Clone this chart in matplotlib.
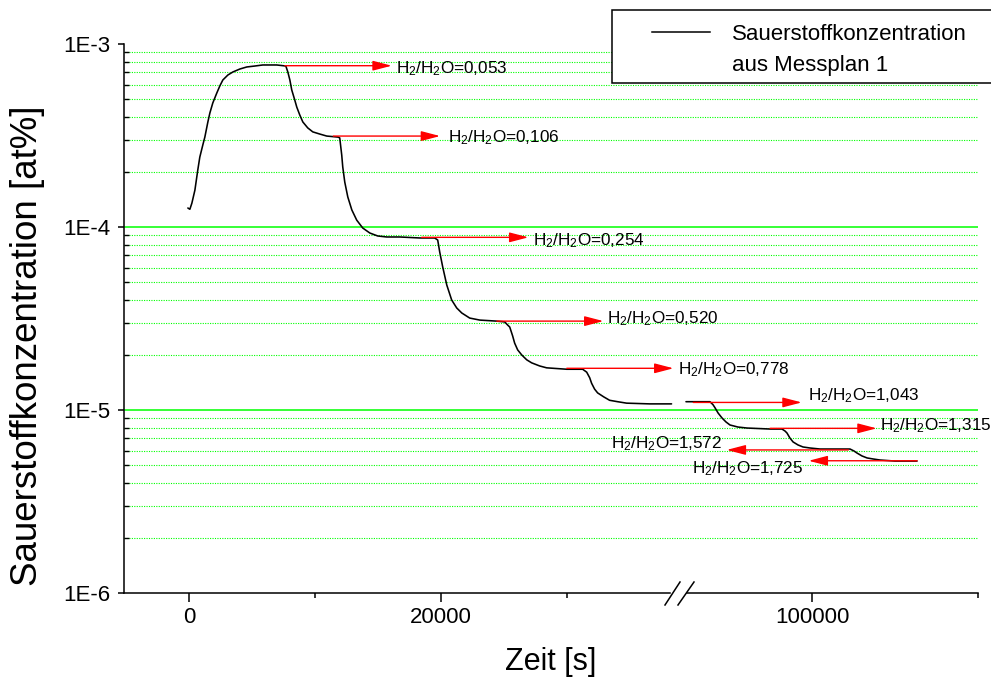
import matplotlib
matplotlib.use("Agg")
import matplotlib.pyplot as plt
from matplotlib.lines import Line2D
from matplotlib.patches import Rectangle

plt.rcParams['font.family'] = ['Liberation Sans', 'DejaVu Sans']
plt.rcParams['mathtext.fontset'] = 'custom'
plt.rcParams['mathtext.rm'] = 'Liberation Sans'
plt.rcParams['mathtext.it'] = 'Liberation Sans:italic'
plt.rcParams['mathtext.bf'] = 'Liberation Sans:bold'
plt.rcParams['mathtext.default'] = 'regular'

# ---- oxygen concentration, first block of the run [s], [at%]
t_a = [-80, 80, 240, 480, 710, 870, 1110, 1270, 1510, 1670, 1900, 2220, 2460, 2700,
       3100, 3490, 4050, 4600, 5240, 5870, 6980, 7700, 7860, 8020, 8170, 8410, 8570,
       8810, 9050, 9440, 9840, 10400, 10950, 11830, 11980, 12140, 12220, 12380, 12620,
       12940, 13330, 13810, 14370, 15000, 15710, 16750, 18330, 19520, 19760, 19920,
       20160, 20480, 20870, 21270, 21670, 22300, 23100, 24440, 25080, 25320, 25480,
       25710, 25870, 26110, 26430, 26830, 27220, 27860, 28410, 30000, 31270, 31590,
       31830, 31980, 32220, 32460, 32940, 33410, 34050, 34760, 36590, 38330]
c_a = [1.27e-4, 1.25e-4, 1.35e-4, 1.59e-4, 2.05e-4, 2.41e-4, 2.81e-4, 3.10e-4, 3.75e-4,
       4.20e-4, 4.76e-4, 5.40e-4, 5.90e-4, 6.36e-4, 6.77e-4, 7.03e-4, 7.30e-4, 7.49e-4,
       7.58e-4, 7.68e-4, 7.68e-4, 7.58e-4, 7.03e-4, 6.36e-4, 5.61e-4, 4.94e-4, 4.52e-4,
       4.09e-4, 3.75e-4, 3.48e-4, 3.31e-4, 3.22e-4, 3.14e-4, 3.10e-4, 3.07e-4, 2.47e-4,
       2.13e-4, 1.76e-4, 1.46e-4, 1.24e-4, 1.09e-4, 9.87e-5, 9.27e-5, 8.93e-5, 8.82e-5,
       8.82e-5, 8.71e-5, 8.71e-5, 8.49e-5, 7.30e-5, 6.04e-5, 4.82e-5, 3.99e-5, 3.61e-5,
       3.39e-5, 3.18e-5, 3.10e-5, 3.06e-5, 3.03e-5, 2.91e-5, 2.84e-5, 2.54e-5, 2.32e-5,
       2.13e-5, 2.00e-5, 1.88e-5, 1.81e-5, 1.74e-5, 1.70e-5, 1.67e-5, 1.67e-5, 1.61e-5,
       1.50e-5, 1.40e-5, 1.30e-5, 1.24e-5, 1.18e-5, 1.13e-5, 1.11e-5, 1.09e-5, 1.08e-5,
       1.08e-5]

# ---- second block of the run
t_b = [92360, 93810, 93990, 94110, 94300, 94540, 94780, 95020, 95500, 96050, 97440,
       98160, 98340, 98460, 98640, 98830, 99130, 99430, 99850, 100460, 102270, 102510,
       102690, 102990, 103300, 103660, 104080, 104990, 106320]
c_b = [1.11e-5, 1.11e-5, 1.07e-5, 1.03e-5, 9.63e-6, 9.04e-6, 8.60e-6, 8.28e-6, 8.07e-6,
       7.97e-6, 7.87e-6, 7.87e-6, 7.68e-6, 7.49e-6, 7.03e-6, 6.69e-6, 6.44e-6, 6.28e-6,
       6.20e-6, 6.12e-6, 6.12e-6, 5.97e-6, 5.82e-6, 5.61e-6, 5.47e-6, 5.40e-6, 5.33e-6,
       5.26e-6, 5.26e-6]

# ---- H2/H2O steps: ratio, level of the arrow, arrow start and arrow tip [s]
ratio_labels = ['0,053', '0,106', '0,254', '0,520', '0,778', '1,043', '1,315', '1,572', '1,725']
step_level = [7.61e-4, 3.14e-4, 8.78e-5, 3.06e-5, 1.69e-5, 1.10e-5, 7.94e-6, 6.05e-6, 5.28e-6]
step_from = [7630, 11470, 18490, 24450, 30010, 92800, 97440, 102170, 106320]
step_to = [16110, 19950, 26960, 32920, 38480, 99350, 103880, 94820, 99770]

y_ticks = [1e-6, 1e-5, 1e-4, 1e-3]
y_ticklabels = ['1E-6', '1E-5', '1E-4', '1E-3']

W, H = 991, 683
PX = 72.0 / 100.0          # points per pixel at dpi 100


def fx(x):
    return x / W


def fy(y):
    return 1 - y / H


fig = plt.figure(figsize=(W / 100, H / 100), dpi=100)
ax1 = fig.add_axes([fx(124), fy(593), (680 - 124) / W, (593 - 44) / H])
ax2 = fig.add_axes([fx(680), fy(593), (978 - 680) / W, (593 - 44) / H])

GREEN = '#00ff00'
for ax in (ax1, ax2):
    ax.set_yscale('log')
    ax.set_ylim(1e-6, 1e-3)
    ax.patch.set_visible(False)
    for s in ('top', 'right'):
        ax.spines[s].set_visible(False)
    ax.spines['bottom'].set_linewidth(1.1)
    ax.spines['left'].set_linewidth(1.1)
    # grid: solid at decades, dotted in between
    for dec in (1e-5, 1e-4):
        ax.axhline(dec, color=GREEN, lw=1.1, zorder=1)
    for dec in (1e-6, 1e-5, 1e-4):
        for m in range(2, 10):
            ax.axhline(m * dec, color=GREEN, lw=0.8, ls=(0, (1, 1.2)), zorder=1)
    ax.tick_params(axis='x', which='major', direction='out', length=9 * PX, width=1.1,
                   labelsize=16, pad=5 * PX)
    ax.tick_params(axis='x', which='minor', direction='out', length=5 * PX, width=1.1)

ax1.set_xlim(-5150, 39000)
ax2.set_xlim(92000, 110000)
ax1.set_xticks([0, 20000])
ax1.set_xticklabels(['0', '20000'])
ax1.set_xticks([10000, 30000], minor=True)
ax2.set_xticks([100000])
ax2.set_xticklabels(['100000'])
ax2.set_xticks([110000], minor=True)

ax1.set_yticks(y_ticks)
ax1.set_yticklabels(y_ticklabels)
ax1.set_yticks([m * d for d in (1e-6, 1e-5, 1e-4) for m in range(2, 10)], minor=True)
ax1.yaxis.set_minor_formatter(plt.NullFormatter())
ax1.tick_params(axis='y', which='major', direction='out', length=6 * PX, width=1.1,
                labelsize=16, pad=8 * PX)
ax1.tick_params(axis='y', which='minor', direction='in', length=5 * PX, width=1.0)

ax2.spines['left'].set_visible(False)
ax2.tick_params(axis='y', which='both', left=False, labelleft=False)

# gap in the bottom axis for the break
ax1.spines['bottom'].set_bounds(-5150, 38200)
ax2.spines['bottom'].set_bounds(92400, 110000)

ax1.plot(t_a, c_a, color='black', lw=1.15, zorder=3, solid_joinstyle='round',
         solid_capstyle='round')
ax2.plot(t_b, c_b, color='black', lw=1.15, zorder=3, solid_joinstyle='round',
         solid_capstyle='round')

# label placement per step: x/y offset of the text from the tip [px], alignment
label_place = [(4, -7.5, 'left'), (8, -6, 'left'), (5, -7.5, 'left'), (3.5, -2, 'left'),
               (5, -6, 'left'), (6.5, 2, 'left'), (3.5, -2, 'left'), (-5, 1.5, 'right'),
               (-5, -13, 'right')]

for lab, lev, t0, t1, (dx, dy, ha) in zip(ratio_labels, step_level, step_from, step_to,
                                          label_place):
    ax = ax1 if t1 < 50000 else ax2
    ax.annotate('', xy=(t1, lev), xytext=(t0, lev),
                arrowprops=dict(arrowstyle='-|>,head_length=1.15,head_width=0.3',
                                mutation_scale=10, color='red', lw=1.0,
                                shrinkA=0, shrinkB=0),
                zorder=4)
    ax.annotate(r'H$_2$/H$_2$O=' + lab, xy=(t1, lev), xytext=(dx * PX, dy * PX),
                textcoords='offset points', ha=ha, va='baseline', fontsize=12.3,
                color='black', zorder=5, annotation_clip=False)

# axis break marks
for xa, xb in ((665, 680), (678, 694)):
    fig.add_artist(Line2D([fx(xa), fx(xb)], [fy(605), fy(582)], color='black', lw=1.1,
                          transform=fig.transFigure))

fig.text(fx(551), fy(662), 'Zeit [s]', ha='center', va='center', fontsize=22)
fig.text(fx(28), fy(346), 'Sauerstoffkonzentration [at%]', ha='center', va='center',
         rotation=90, fontsize=26.5)

# legend box
fig.add_artist(Rectangle((fx(612), fy(83)), (1010 - 612) / W, 73 / H,
                         transform=fig.transFigure, facecolor='white', edgecolor='black',
                         lw=1.1, zorder=10))
fig.add_artist(Line2D([fx(652), fx(710)], [fy(32), fy(32)], color='black', lw=1.1,
                      transform=fig.transFigure, zorder=11))
fig.text(fx(732), fy(39.5), 'Sauerstoffkonzentration', ha='left', va='baseline',
         fontsize=16, zorder=11)
fig.text(fx(732), fy(71), 'aus Messplan 1', ha='left', va='baseline', fontsize=16,
         zorder=11)

fig.savefig('out.png', dpi=100)
